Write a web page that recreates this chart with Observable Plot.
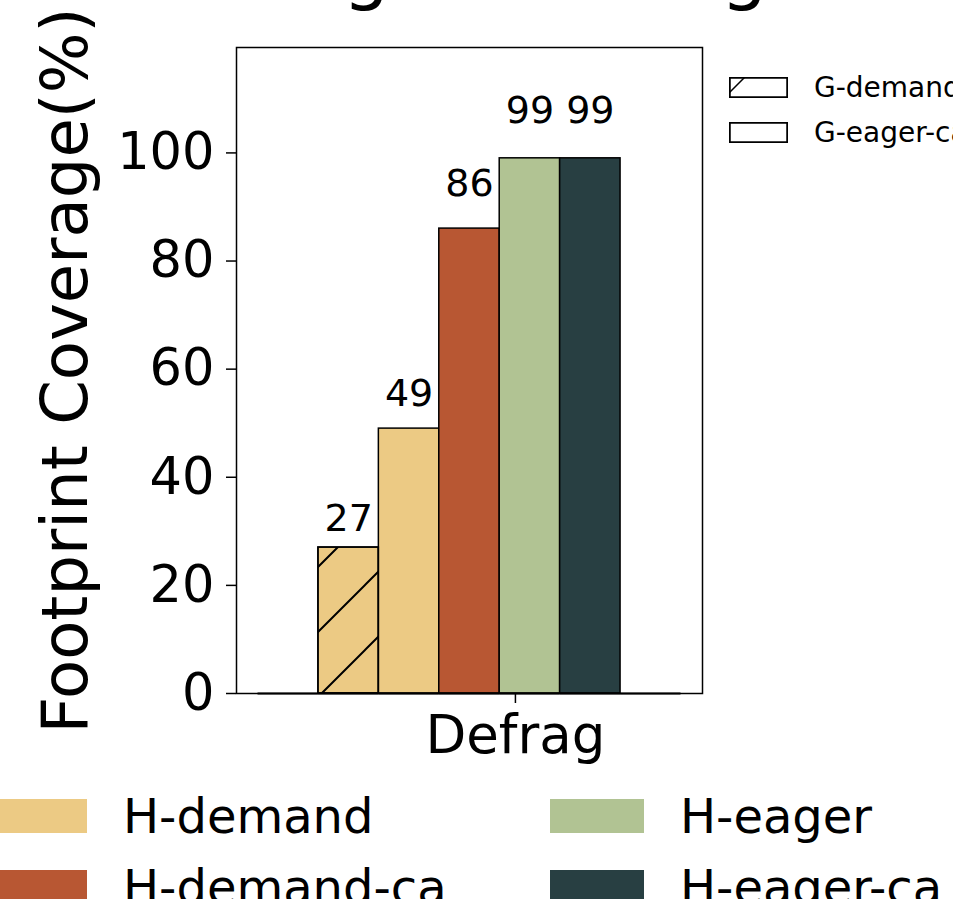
<!DOCTYPE html>
<html>
<head>
<meta charset="utf-8">
<script src="https://cdn.jsdelivr.net/npm/d3@7"></script>
<script src="https://cdn.jsdelivr.net/npm/@observablehq/plot@0.6"></script>
<style>
  html, body { margin: 0; padding: 0; background: #fff; overflow: hidden; }
  #page { position: relative; width: 953px; height: 899px; overflow: hidden;
          font-family: "DejaVu Sans", sans-serif; color: #000; background: #fff; }
  #title { position: absolute; left: 256px; top: -68px; font-size: 74px; line-height: 74px; white-space: nowrap; }
  #chart { position: absolute; left: 0; top: 0; }
  #defs { position: absolute; left: 0; top: 0; width: 0; height: 0; }
  .gitem { position: absolute; left: 729px; height: 21px; display: flex; align-items: center; white-space: nowrap; font-size: 28px; }
  .gitem span { margin-left: 26px; }
  .hitem { position: absolute; height: 34px; display: flex; align-items: center; white-space: nowrap; font-size: 48px; }
  .hitem .sw { width: 94px; height: 34px; flex: none; }
  .hitem span { margin-left: 36px; }
</style>
</head>
<body>
<div id="page">
  <svg id="defs" width="0" height="0">
    <defs>
      <pattern id="hatchMain" patternUnits="userSpaceOnUse" x="40" y="0" width="65" height="65">
        <path d="M-8,8 L8,-8 M0,65 L65,0 M57,73 L73,57" stroke="#000" stroke-width="2" fill="none"/>
      </pattern>
      <pattern id="hatchLegend" patternUnits="userSpaceOnUse" x="16" y="0" width="65" height="65">
        <path d="M-8,8 L8,-8 M0,65 L65,0 M57,73 L73,57" stroke="#000" stroke-width="1.5" fill="none"/>
      </pattern>
    </defs>
  </svg>
  <div id="title">Page Coverage</div>
  <div id="chart"></div>
  <div id="glegend"></div>
  <div id="hlegend"></div>
</div>
<script>
// ---- data ----
const barValues = [0, 27, 49, 86, 99, 99, 0];
const barHost   = [null, "H-demand", "H-demand", "H-demand-ca", "H-eager", "H-eager-ca", null];
const barGuest  = [null, "G-demand", "G-eager-ca", "G-eager-ca", "G-eager-ca", "G-eager-ca", null];
const hostNames  = ["H-demand", "H-demand-ca", "H-eager", "H-eager-ca"];
const hostColors = ["#ECCA84", "#B85733", "#B1C393", "#283F42"];
const guestNames = ["G-demand", "G-eager-ca"];
const yTicks = [0, 20, 40, 60, 80, 100];
const xTickPos = [4.26];
const xTickLabels = ["Defrag"];
const yLabel = ["Footprint Coverage(%)"];

const colorOf = h => hostColors[hostNames.indexOf(h)];
const bars = barValues.map((v, i) => ({i, v, host: barHost[i], guest: barGuest[i]}));
const filled = bars.filter(d => d.v > 0);

const chart = Plot.plot({
  width: 953,
  height: 775,
  marginLeft: 236,
  marginRight: 251,
  marginTop: 47,
  marginBottom: 82,
  style: {fontFamily: "DejaVu Sans", color: "#000", background: "transparent", overflow: "visible"},
  x: {domain: [-0.356, 7.356]},
  y: {domain: [0, 119.5]},
  color: {type: "identity"},
  marks: [
    Plot.rectY(filled, {x1: d => d.i, x2: d => d.i + 1, y1: 0, y2: d => d.v,
      fill: d => colorOf(d.host), stroke: "#000", strokeWidth: 1.5}),
    Plot.rectY(filled.filter(d => d.guest === "G-demand"), {x1: d => d.i, x2: d => d.i + 1, y1: 0, y2: d => d.v,
      fill: "url(#hatchMain)", stroke: "#000", strokeWidth: 1.5}),
    Plot.ruleY(bars, {x1: d => d.i, x2: d => d.i + 1, y: 0, stroke: "#000", strokeWidth: 2}),
    Plot.text(filled, {x: d => d.i + 0.5, y: d => d.v * 1.05, text: d => String(d.v),
      lineAnchor: "bottom", dy: -9, fontSize: 38, fill: "#000"}),
    Plot.frame({stroke: "#000", strokeWidth: 1.5}),
    Plot.axisY(yTicks, {tickSize: 10, tickPadding: 12, fontSize: 51, strokeWidth: 1.5, label: null}),
    Plot.axisX(xTickPos, {tickSize: 10, tickPadding: 12, fontSize: 53, strokeWidth: 1.5, label: null,
      tickFormat: d => xTickLabels[xTickPos.indexOf(d)]}),
    Plot.text(yLabel, {frameAnchor: "left", textAnchor: "middle", rotate: -90, dx: -170, fontSize: 64, fill: "#000"})
  ]
});
document.getElementById("chart").appendChild(chart);

// ---- guest legend (top right) ----
const gl = document.getElementById("glegend");
guestNames.forEach((name, k) => {
  const item = document.createElement("div");
  item.className = "gitem";
  item.style.top = (77 + k * 45) + "px";
  const hatch = name === "G-demand" ? '<rect x="0.75" y="0.75" width="57.5" height="19.5" fill="url(#hatchLegend)" stroke="none"/>' : "";
  item.innerHTML = '<svg width="59" height="21" style="flex:none"><rect x="0.75" y="0.75" width="57.5" height="19.5" fill="#fff" stroke="#000" stroke-width="1.5"/>' +
    hatch + '<rect x="0.75" y="0.75" width="57.5" height="19.5" fill="none" stroke="#000" stroke-width="1.5"/></svg><span>' + name + '</span>';
  gl.appendChild(item);
});

// ---- host legend (bottom) ----
const hl = document.getElementById("hlegend");
hostNames.forEach((name, k) => {
  const col = Math.floor(k / 2), row = k % 2;
  const item = document.createElement("div");
  item.className = "hitem";
  item.style.left = (col === 0 ? -7 : 550) + "px";
  item.style.top = (799 + row * 71) + "px";
  item.innerHTML = '<div class="sw" style="background:' + hostColors[k] + '"></div><span>' + name + '</span>';
  hl.appendChild(item);
});
</script>
</body>
</html>
